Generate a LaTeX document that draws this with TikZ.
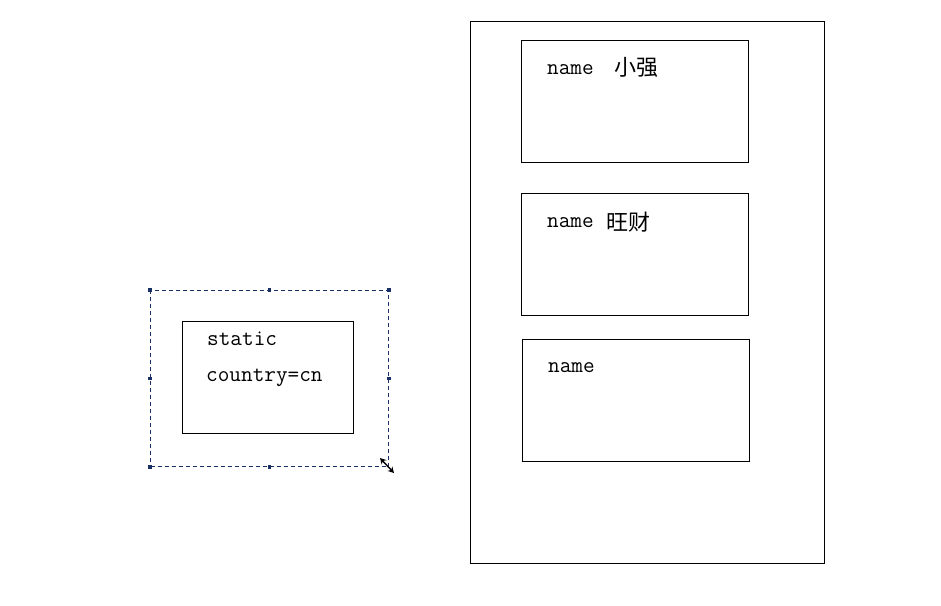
\documentclass[tikz,border=0pt]{standalone}
\usepackage{fontspec}
\newfontfamily\cjkfont{Noto Sans CJK SC}
\usetikzlibrary{arrows.meta}
\definecolor{selnavy}{HTML}{1A2F66}
\tikzset{
  box/.style={draw=black, line width=0.9pt, inner sep=0pt, anchor=north west},
  lbl/.style={inner sep=0pt, anchor=base west, font=\ttfamily\fontsize{22.6}{24}\selectfont},
  cjk/.style={inner sep=0pt, anchor=base west, font=\cjkfont\fontsize{22}{24}\selectfont},
  handle/.style={fill=selnavy, draw=none, minimum size=3.5pt, inner sep=0pt},
  selrect/.style={draw=selnavy, line width=1pt, dash pattern=on 4pt off 3pt, inner sep=0pt, anchor=north west},
}
\begin{document}
\begin{tikzpicture}[x=1pt, y=-1pt]
\useasboundingbox (0,0) rectangle (941,605);
% big container
\node[box, minimum width=354pt, minimum height=542pt] (heap) at (470,21) {};
% object boxes
\node[box, minimum width=227pt, minimum height=122pt] (obj1) at (521,40) {};
\node[box, minimum width=227pt, minimum height=122pt] (obj2) at (521,193) {};
\node[box, minimum width=227pt, minimum height=122pt] (obj3) at (522,339) {};
\node[lbl] (n1) at (547,74) {name};
\node[cjk] (v1) at (614,75) {小强};
\node[lbl] (n2) at (547,227) {name};
\node[cjk] (v2) at (606,230) {旺财};
\node[lbl] (n3) at (548,372) {name};
% static area
\node[selrect, minimum width=238pt, minimum height=176pt] (sel) at (150,290) {};
\node[box, minimum width=171pt, minimum height=112pt] (stat) at (182,321) {};
\node[lbl] (s1) at (207,345) {static};
\node[lbl] (s2) at (206,381) {country=cn};
% handles
\node[handle] (h1) at (sel.north west) {};
\node[handle] (h2) at (sel.north) {};
\node[handle] (h3) at (sel.north east) {};
\node[handle] (h4) at (sel.west) {};
\node[handle] (h5) at (sel.east) {};
\node[handle] (h6) at (sel.south west) {};
\node[handle] (h7) at (sel.south) {};
% resize cursor
\coordinate (c1) at (380,458);
\coordinate (c2) at (394,473);
\draw[line width=1.4pt, {Stealth[length=6pt,width=6.5pt]}-{Stealth[length=6pt,width=6.5pt]}] (c1) -- (c2);
\end{tikzpicture}
\end{document}
